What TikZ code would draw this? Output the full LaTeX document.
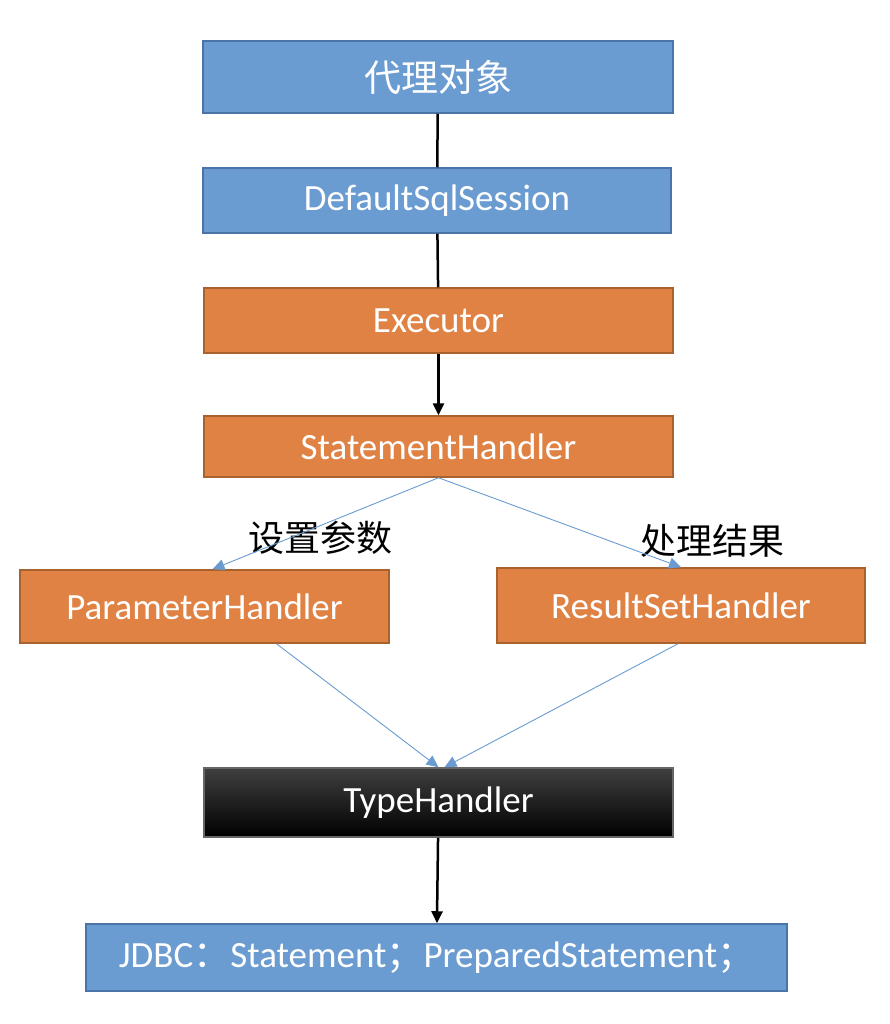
\documentclass[tikz,border=0pt]{standalone}
\usepackage{fontspec}
\setmainfont{Carlito}
\newfontfamily\cjk{Noto Sans CJK SC}
\usetikzlibrary{arrows.meta}
\definecolor{boxblue}{HTML}{6A9BD1}
\definecolor{blueline}{HTML}{4A73A8}
\definecolor{boxorange}{HTML}{DF8244}
\definecolor{orangeline}{HTML}{A8622F}
\definecolor{linkblue}{HTML}{6A9BD1}
\begin{document}
\begin{tikzpicture}[x=1pt, y=-1pt, >={Triangle[length=12pt,width=11pt]}]
        \tikzstyle{stage}=[draw, line width=1.5pt, inner sep=0pt, text=white,
                font=\fontsize{37}{40}\selectfont]
        \tikzstyle{bluebox}=[stage, fill=boxblue, draw=blueline]
        \tikzstyle{orangebox}=[stage, fill=boxorange, draw=orangeline]
        \tikzstyle{blackbox}=[stage, draw=black!60, top color=black!75,
                middle color=black, bottom color=black]
        \tikzstyle{call}=[line width=2.5pt, black]
        \tikzstyle{link}=[->, line width=0.9pt, linkblue]
        \tikzstyle{note}=[font=\cjk\fontsize{36}{40}\selectfont]

        \useasboundingbox (0,0) rectangle (890,1024);

        \node[bluebox, minimum width=470pt, minimum height=72pt](proxy) at (438,77){\cjk 代理对象};
        \node[bluebox, minimum width=468pt, minimum height=65pt](session) at (437,200.5){DefaultSqlSession};
        \node[orangebox, minimum width=469pt, minimum height=65pt](executor) at (438.5,320.5){Executor};
        \node[orangebox, minimum width=469pt, minimum height=61pt](stmt) at (438.5,446.5){StatementHandler};

        \node[orangebox, minimum width=369pt, minimum height=73pt](param) at (204.5,606.5){ParameterHandler};
        \node[orangebox, minimum width=368pt, minimum height=75pt](result) at (681,605.5){ResultSetHandler};
        \node[note](setp) at (320,538){设置参数};
        \node[note](handle) at (712,541){处理结果};

        \node[blackbox, minimum width=469pt, minimum height=69pt](type) at (438.5,802.5){TypeHandler};
        \node[bluebox, minimum width=701pt, minimum height=67pt](jdbc) at (436.5,957.5)
                {JDBC{\cjk ：}Statement{\cjk ；}PreparedStatement{\cjk ；}};

        \draw[call] (proxy) -- (session);
        \draw[call] (session) -- (executor);
        \draw[call, ->] (executor) -- (stmt);

        \draw[link] (stmt.south) -- ([xshift=8pt]param.north);
        \draw[link] (stmt.south) -- (result.north);
        \draw[link] ([xshift=72pt]param.south) -- (type.north);
        \draw[link] ([xshift=-3pt]result.south) -- ([xshift=6pt]type.north);

        \draw[call, ->] (type) -- (jdbc);

        \end{tikzpicture}
\end{document}
